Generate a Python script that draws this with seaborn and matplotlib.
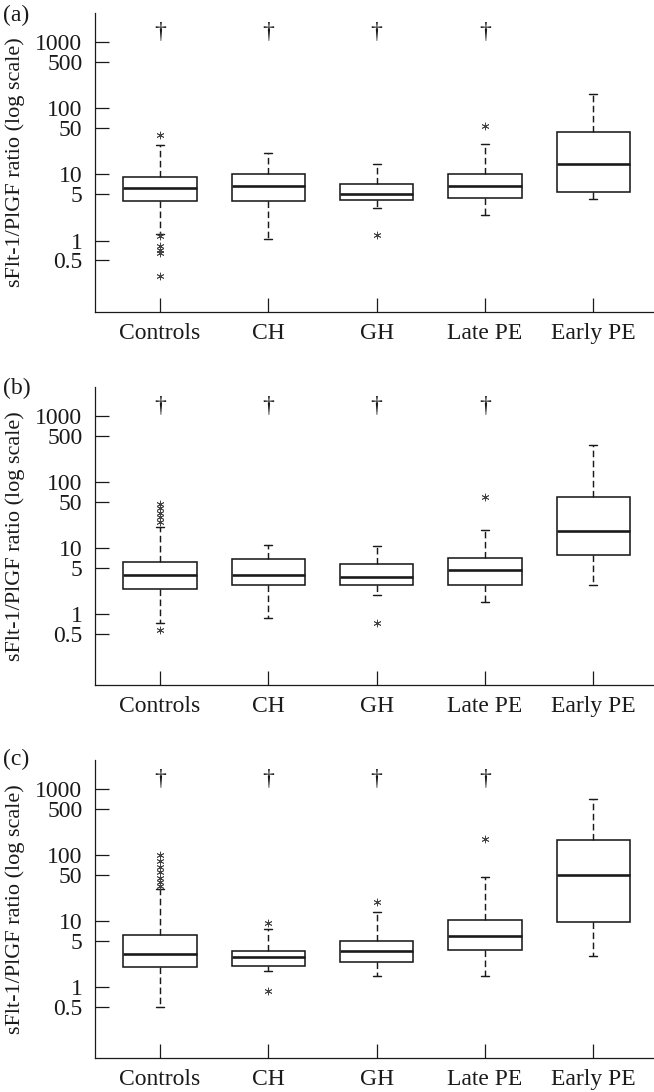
import numpy as np
import pandas as pd
import matplotlib
matplotlib.use("Agg")
import matplotlib.pyplot as plt
import matplotlib.ticker as mticker
import seaborn as sns

categories = ["Controls", "CH", "GH", "Late PE", "Early PE"]
dagger_groups = ["Controls", "CH", "GH", "Late PE"]
panel_labels = ["(a)", "(b)", "(c)"]
ytick_values = [0.5, 1, 5, 10, 50, 100, 500, 1000]
ytick_labels = ["0.5", "1", "5", "10", "50", "100", "500", "1000"]
ylabel = "sFlt-1/PlGF ratio (log scale)"

# Panel (a) box statistics: lower whisker, Q1, median, Q3, upper whisker
a_lo = [1.25, 1.07, 3.1, 2.45, 4.3]
a_q1 = [4.0, 3.9, 4.15, 4.45, 5.5]
a_med = [6.3, 6.7, 5.1, 6.7, 14.5]
a_q3 = [9.2, 10.2, 7.2, 10.2, 44]
a_hi = [28, 21, 14.5, 29, 165]
a_out_group = ["Controls", "Controls", "Controls", "Controls", "Controls", "Controls", "GH", "Late PE"]
a_out_value = [40, 1.18, 0.84, 0.72, 0.64, 0.29, 1.2, 54]

# Panel (b)
b_lo = [0.72, 0.86, 1.94, 1.53, 2.77]
b_q1 = [2.4, 2.7, 2.7, 2.7, 7.7]
b_med = [3.85, 3.9, 3.6, 4.6, 17.8]
b_q3 = [6.0, 6.7, 5.6, 7.0, 60]
b_hi = [21, 11, 10.8, 18.6, 366]
b_out_group = ["Controls", "Controls", "Controls", "Controls", "Controls", "Controls", "GH", "Late PE"]
b_out_value = [47, 40, 34, 29, 25, 0.57, 0.72, 58]

# Panel (c)
c_lo = [0.49, 1.75, 1.45, 1.47, 2.88]
c_q1 = [1.96, 2.08, 2.39, 3.55, 9.7]
c_med = [3.16, 2.85, 3.43, 5.9, 50]
c_q3 = [6.0, 3.5, 5.0, 10.2, 169]
c_hi = [30, 7.6, 13.8, 47, 705]
c_out_group = ["Controls", "Controls", "Controls", "Controls", "Controls", "Controls", "Controls",
               "CH", "CH", "GH", "Late PE"]
c_out_value = [100, 80, 65, 55, 45, 39, 34, 9.3, 0.85, 19.6, 175]

panels = [
    (a_lo, a_q1, a_med, a_q3, a_hi, a_out_group, a_out_value),
    (b_lo, b_q1, b_med, b_q3, b_hi, b_out_group, b_out_value),
    (c_lo, c_q1, c_med, c_q3, c_hi, c_out_group, c_out_value),
]

sns.set_style("ticks")
plt.rcParams["font.family"] = ["Liberation Serif", "DejaVu Serif"]
plt.rcParams["axes.linewidth"] = 0.9

W, H = 654, 1092
fig = plt.figure(figsize=(W / 100, H / 100), dpi=100)

# axes placement in pixels: (top, bottom)
ax_px = [(13, 312), (387, 685), (760, 1058)]
label_top_px = [5, 378, 749]
left_px = 95

ink = "#1a1a1a"
fs = 17

for i, (lo, q1, med, q3, hi, og, ov) in enumerate(panels):
    top, bot = ax_px[i]
    ax = fig.add_axes([left_px / W, 1 - bot / H, 1 - left_px / W, (bot - top) / H])
    rows = []
    for c, l, a, m, b, h in zip(categories, lo, q1, med, q3, hi):
        for v in (l, a, m, b, h):
            rows.append({"group": c, "value": v})
    df = pd.DataFrame(rows)
    sns.boxplot(data=df, x="group", y="value", order=categories, ax=ax,
                whis=(0, 100), width=0.675, color="white", linecolor=ink,
                saturation=1, showfliers=False, log_scale=True,
                linewidth=1.15,
                medianprops={"linewidth": 1.9, "color": ink},
                whiskerprops={"linestyle": (0, (4.5, 2.4)), "linewidth": 1.05, "color": ink},
                capprops={"linewidth": 1.05, "color": ink},
                capwidths=0.075)
    odf = pd.DataFrame({"group": og, "value": ov})
    sns.stripplot(data=odf, x="group", y="value", order=categories, ax=ax,
                  jitter=False, marker=(6, 2, 0), size=5, color="#444444",
                  edgecolor="#444444", linewidth=0.6, log_scale=True)
    for g in dagger_groups:
        ax.text(categories.index(g), 1400, "\u2020", ha="center", va="center",
                fontsize=fs, color=ink)
    ax.set_ylim(0.083, 2750)
    ax.set_xlim(-0.6, 4.56)
    ax.yaxis.set_major_locator(mticker.FixedLocator(ytick_values))
    ax.yaxis.set_minor_locator(mticker.NullLocator())
    ax.set_yticklabels(ytick_labels)
    ax.tick_params(axis="both", direction="in", length=10, width=0.9, colors=ink,
                   labelsize=fs, labelcolor=ink)
    ax.tick_params(axis="y", pad=9)
    ax.tick_params(axis="x", pad=8)
    ax.set_xlabel("")
    ax.set_ylabel(ylabel, fontsize=16, color=ink)
    ax.yaxis.set_label_coords(-0.125, 0.5)
    sns.despine(ax=ax)
    ax.spines["left"].set_color(ink)
    ax.spines["bottom"].set_color(ink)
    fig.text(3 / W, 1 - label_top_px[i] / H, panel_labels[i], ha="left", va="top",
             fontsize=fs, color=ink)

fig.savefig("out.png", dpi=100)
